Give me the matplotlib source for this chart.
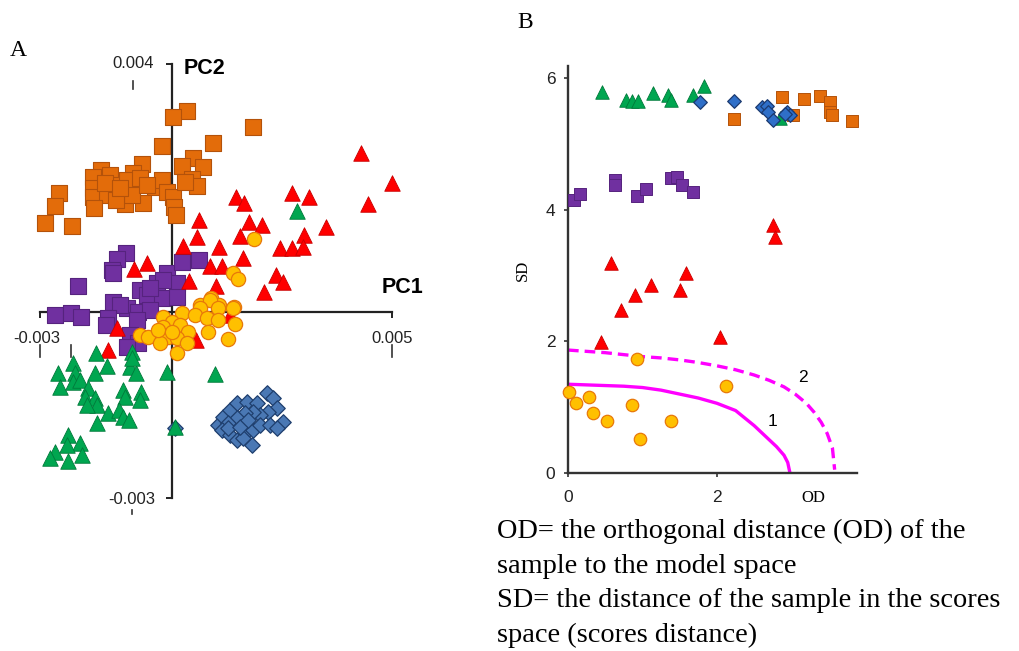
import numpy as np
import matplotlib
matplotlib.use("Agg")
import matplotlib.pyplot as plt
from matplotlib.lines import Line2D

# ---- A: PCA scores (PC1, PC2), in units of 1e-3 ----
orange_pc1 = [0.34, 0.02, 1.84, -0.23, 0.93, 0.48, 0.23, 0.70, 0.45, 0.57, -0.68, -0.89, -1.61, -1.80,
              -1.41, -1.25, -1.02, -0.73, -0.39, -0.23, -0.11, -1.80, -1.80, -1.48, -1.07, -0.66, -1.77,
              0.02, 0.05, 0.09, -2.57, -2.66, -2.89, -2.27, -0.91, -1.27, -0.57, -1.52, -1.18, 0.30]
orange_pc2 = [3.24, 3.15, 2.98, 2.68, 2.73, 2.48, 2.35, 2.34, 2.15, 2.03, 2.39, 2.24, 2.29, 2.18,
              2.21, 2.05, 2.13, 2.16, 2.02, 2.13, 1.94, 2.00, 1.85, 1.89, 1.74, 1.76, 1.68,
              1.85, 1.69, 1.56, 1.92, 1.71, 1.44, 1.39, 1.89, 1.81, 2.05, 2.08, 2.00, 2.10]

red_pc1 = [4.30, 5.00, 4.45, 2.73, 3.11, 1.45, 1.64, 0.61, 1.75, 2.05, 3.50, 0.57, 1.55, 3.00, 0.25,
           1.07, 2.45, 2.73, 2.98, 1.61, 0.86, 1.14, 2.36, 2.52, 2.09, 0.39, 1.00, -0.86, -0.57,
           -1.45, -1.25, 0.55, 1.32]
red_pc2 = [2.56, 2.08, 1.74, 1.92, 1.85, 1.85, 1.76, 1.48, 1.45, 1.40, 1.37, 1.21, 1.23, 1.24, 1.06,
           1.05, 1.03, 1.03, 1.05, 0.87, 0.74, 0.74, 0.60, 0.48, 0.32, 0.50, 0.42, 0.69, 0.79,
           -0.61, -0.26, -0.45, -0.05]

green_pc1 = [2.84, -1.73, -2.25, -2.59, -2.20, -2.55, -2.25, -2.09, -1.75, -1.48, -0.95, -0.82, -0.11,
             0.98, -1.91, -1.98, -1.75, -1.70, -1.93, -1.45, -1.11, -1.07, -0.70, -0.73, -1.20, -1.11,
             -0.98, -1.70, 0.07, -2.36, -2.09, -2.39, -2.66, -2.05, -2.36, -2.77, -0.91, -0.91]
green_pc2 = [1.63, -0.66, -0.82, -0.98, -0.98, -1.21, -1.13, -1.10, -0.98, -0.87, -0.89, -0.98, -0.97,
             -1.00, -1.23, -1.37, -1.39, -1.50, -1.50, -1.63, -1.26, -1.37, -1.29, -1.42, -1.58, -1.69,
             -1.74, -1.79, -1.85, -1.98, -2.11, -2.15, -2.26, -2.31, -2.40, -2.35, -0.65, -0.74]

blue_pc1 = [1.05, 1.16, 1.32, 1.48, 1.70, 1.93, 2.16, 2.30, 2.39, 2.18, 2.00, 1.84, 1.66, 1.48, 1.27,
            1.14, 1.32, 1.48, 1.66, 1.84, 2.00, 2.23, 2.52, 2.39, 1.82, 1.61, 1.27, 1.55, 1.73, 0.07]
blue_pc2 = [-1.82, -1.69, -1.58, -1.47, -1.45, -1.47, -1.31, -1.39, -1.55, -1.61, -1.66, -1.61, -1.63,
            -1.71, -1.79, -1.90, -1.98, -2.06, -1.95, -1.90, -1.82, -1.82, -1.77, -1.87, -2.15, -2.03,
            -1.87, -1.85, -1.74, -1.87]

purple_pc1 = [-1.05, -1.25, -1.36, -1.34, -2.14, -2.66, -2.30, -2.07, -0.11, -0.34, 0.11, -0.73, -0.57,
              -0.23, 0.11, -1.34, -1.02, -1.18, -0.77, -0.50, -1.45, -1.50, -0.80, -0.95, -0.77, -1.02,
              0.23, 0.61, -0.20, -0.50]
purple_pc2 = [0.95, 0.85, 0.68, 0.63, 0.42, -0.05, -0.02, -0.08, 0.63, 0.47, 0.47, 0.35, 0.27,
              0.23, 0.24, 0.16, 0.06, 0.11, 0.00, 0.03, -0.10, -0.21, -0.13, -0.37, -0.50, -0.56,
              0.81, 0.84, 0.52, 0.39]

yellow_pc1 = [1.86, 1.39, 1.50, 0.64, 0.89, 1.07, 1.41, 0.86, 0.64, 1.05, 1.39, 0.23, 0.52, 0.80, 1.05,
              1.43, -0.20, 0.00, -0.20, 0.18, 0.36, 0.82, 1.27, -0.73, -0.55, -0.09, 0.11, 0.34, -0.27,
              0.11, -0.32, 0.00]
yellow_pc2 = [1.18, 0.63, 0.53, 0.11, 0.23, 0.11, 0.08, 0.19, 0.06, 0.06, 0.06, -0.02, -0.05, -0.10,
              -0.13, -0.19, -0.08, -0.16, -0.24, -0.21, -0.32, -0.32, -0.44, -0.37, -0.40, -0.40, -0.42,
              -0.50, -0.50, -0.66, -0.29, -0.32]

# ---- B: orthogonal distance (OD) vs score distance (SD) ----
green_od = [0.46, 0.78, 0.86, 0.94, 1.14, 1.34, 1.38, 1.68, 1.83, 2.85]
green_sd = [5.80, 5.67, 5.66, 5.66, 5.78, 5.75, 5.67, 5.75, 5.89, 5.40]
blue_od = [1.77, 2.23, 2.60, 2.67, 2.69, 2.75, 2.94, 2.98, 2.91]
blue_sd = [5.64, 5.66, 5.57, 5.58, 5.49, 5.37, 5.49, 5.44, 5.46]
orange_od = [2.23, 2.87, 3.02, 3.17, 3.38, 3.52, 3.52, 3.54, 3.81]
orange_sd = [5.38, 5.72, 5.44, 5.69, 5.74, 5.64, 5.49, 5.44, 5.35]
purple_od = [0.08, 0.16, 0.63, 0.63, 0.92, 1.05, 1.38, 1.46, 1.53, 1.68]
purple_sd = [4.15, 4.24, 4.46, 4.38, 4.21, 4.32, 4.49, 4.50, 4.38, 4.28]
red_od = [0.44, 0.58, 0.71, 0.90, 1.11, 1.50, 1.59, 2.04, 2.75, 2.78]
red_sd = [1.99, 3.19, 2.48, 2.71, 2.86, 2.78, 3.04, 2.07, 3.77, 3.59]
yellow_od = [0.01, 0.11, 0.28, 0.34, 0.53, 0.86, 0.92, 0.96, 1.38, 2.12]
yellow_sd = [1.23, 1.07, 1.15, 0.91, 0.79, 1.04, 1.73, 0.52, 0.79, 1.32]

# acceptance limit (1) and outlier limit (2)
lim1_od = [0.0, 0.25, 0.5, 0.75, 1.0, 1.25, 1.5, 1.75, 2.0, 2.25, 2.5, 2.65, 2.8, 2.9, 2.95, 2.98]
lim1_sd = [1.35, 1.34, 1.33, 1.32, 1.30, 1.26, 1.20, 1.14, 1.06, 0.95, 0.72, 0.56, 0.40, 0.27, 0.16, 0.0]
lim2_od = [0.0, 0.25, 0.5, 0.75, 1.0, 1.25, 1.5, 1.75, 2.0, 2.25, 2.5, 2.7, 2.9, 3.05, 3.2, 3.3,
           3.4, 3.48, 3.55, 3.58]
lim2_sd = [1.87, 1.85, 1.83, 1.80, 1.77, 1.75, 1.72, 1.68, 1.63, 1.57, 1.49, 1.41, 1.31, 1.20, 1.06,
           0.93, 0.77, 0.60, 0.38, 0.05]

C_ORANGE, E_ORANGE = '#E36C0A', '#B4520A'
C_RED, E_RED = '#FF0000', '#C80000'
C_GREEN, E_GREEN = '#00A650', '#00793A'
C_BLUE, E_BLUE = '#4A78B4', '#1F3F6E'
C_PURPLE, E_PURPLE = '#7030A0', '#56237E'
C_YELLOW, E_YELLOW = '#FFC000', '#E8780A'
MAGENTA = '#FF00FF'

fig = plt.figure(figsize=(10.19, 6.51), dpi=100)
W, H = 1019, 651

# ---------------- panel A ----------------
axA = fig.add_axes([40 / W, 1 - 498 / H, 352 / W, 434 / H])
k = 1e-3
sc = lambda a: np.asarray(a) * k
kw = dict(clip_on=False)

axA.scatter(sc(orange_pc1), sc(orange_pc2), marker='s', s=135, c=C_ORANGE, edgecolors=E_ORANGE, linewidths=0.8, zorder=3, **kw)
axA.scatter(sc(blue_pc1), sc(blue_pc2), marker='D', s=62, c=C_BLUE, edgecolors=E_BLUE, linewidths=0.9, zorder=3, **kw)
axA.scatter(sc(purple_pc1), sc(purple_pc2), marker='s', s=120, c=C_PURPLE, edgecolors=E_PURPLE, linewidths=0.8, zorder=3, **kw)
axA.scatter(sc(red_pc1), sc(red_pc2), marker='^', s=125, c=C_RED, edgecolors=E_RED, linewidths=0.6, zorder=4, **kw)
axA.scatter(sc(green_pc1), sc(green_pc2), marker='^', s=125, c=C_GREEN, edgecolors=E_GREEN, linewidths=0.6, zorder=4, **kw)
axA.scatter(sc(yellow_pc1), sc(yellow_pc2), marker='o', s=105, c=C_YELLOW, edgecolors=E_YELLOW, linewidths=0.9, zorder=5, **kw)

axA.set_xlim(-0.003, 0.005)
axA.set_ylim(-0.003, 0.004)
for side in ['top', 'right']:
    axA.spines[side].set_visible(False)
axA.spines['left'].set_position(('data', 0))
axA.spines['bottom'].set_position(('data', 0))
for side in ['left', 'bottom']:
    axA.spines[side].set_linewidth(1.6)
    axA.spines[side].set_color('#222222')
    axA.spines[side].set_zorder(2)
axA.set_xticks([-0.003, 0.005])
axA.set_yticks([-0.003, 0.004])
axA.set_xticklabels([])
axA.set_yticklabels([])
axA.tick_params(length=4, width=1.4, color='#222222')

lab = dict(fontsize=12, family='Liberation Sans', color='#222222', ha='center', va='center')
axA.annotate('-0.003', (-0.003, 0), xytext=(-2, -19), textcoords='offset points', **lab)
axA.annotate('0.005', (0.005, 0), xytext=(0, -19), textcoords='offset points', **lab)
axA.annotate('0.004', (0, 0.004), xytext=(-28, 0), textcoords='offset points', **lab)
axA.annotate('-0.003', (0, -0.003), xytext=(-29, -1), textcoords='offset points', **lab)
axA.text(0.00073, 0.00392, 'PC2', fontsize=15.5, fontweight='bold', family='Liberation Sans',
         ha='center', va='center')
axA.text(0.00523, 0.00040, 'PC1', fontsize=15.5, fontweight='bold', family='Liberation Sans',
         ha='center', va='center')

# small marks under the tick labels
for x, y0, y1 in [(40, 345, 357), (71, 345, 357), (392, 345, 357), (133, 81, 89), (132, 510, 514)]:
    fig.add_artist(Line2D([x / W, x / W], [1 - y0 / H, 1 - y1 / H], color='#333333', lw=1.2))

# ---------------- panel B ----------------
axB = fig.add_axes([568 / W, 1 - 473 / H, 289 / W, 407 / H])
axB.plot(lim1_od, lim1_sd, color=MAGENTA, lw=2.4, zorder=2, solid_capstyle='butt')
axB.plot(lim2_od, lim2_sd, color=MAGENTA, lw=2.4, ls=(0, (3.2, 1.8)), zorder=2)
axB.text(2.75, 0.78, '1', fontsize=12.5, family='Liberation Sans', ha='center', va='center')
axB.text(3.15, 1.46, '2', fontsize=12.5, family='Liberation Sans', ha='center', va='center')

kb = dict(clip_on=False)
axB.scatter(green_od, green_sd, marker='^', s=95, c=C_GREEN, edgecolors=E_GREEN, linewidths=0.6, zorder=3, **kb)
axB.scatter(blue_od, blue_sd, marker='D', s=48, c='#2F6FC8', edgecolors='#1C3A70', linewidths=0.9, zorder=4, **kb)
axB.scatter(orange_od, orange_sd, marker='s', s=85, c=C_ORANGE, edgecolors=E_ORANGE, linewidths=0.7, zorder=3, **kb)
axB.scatter(purple_od, purple_sd, marker='s', s=85, c=C_PURPLE, edgecolors=E_PURPLE, linewidths=0.7, zorder=3, **kb)
axB.scatter(red_od, red_sd, marker='^', s=95, c=C_RED, edgecolors=E_RED, linewidths=0.6, zorder=3, **kb)
axB.scatter(yellow_od, yellow_sd, marker='o', s=80, c=C_YELLOW, edgecolors=E_YELLOW, linewidths=0.9, zorder=3, **kb)

axB.set_xlim(0, 3.88)
axB.set_ylim(0, 6.19)
for side in ['top', 'right']:
    axB.spines[side].set_visible(False)
for side in ['left', 'bottom']:
    axB.spines[side].set_linewidth(1.7)
    axB.spines[side].set_color('#333333')
axB.set_xticks([0, 2])
axB.set_yticks([0, 2, 4, 6])
axB.tick_params(length=3, width=1.2, color='#333333', labelsize=12.5)
axB.tick_params(axis='x', pad=9)
axB.tick_params(axis='y', pad=6)
for t in axB.get_xticklabels() + axB.get_yticklabels():
    t.set_family('Liberation Sans')
    t.set_color('#222222')
axB.annotate('OD', (3.3, 0), xytext=(0, -18), textcoords='offset points', ha='center', va='center',
             fontsize=12, family='Liberation Serif')
fig.text(523 / W, 1 - 270 / H, 'SD', rotation=90, fontsize=12, family='Liberation Serif', ha='center', va='center')

# panel letters and note
fig.text(18 / W, 1 - 50 / H, 'A', fontsize=17, family='Liberation Serif', ha='center', va='center')
fig.text(525 / W, 1 - 22 / H, 'B', fontsize=17, family='Liberation Serif', ha='center', va='center')
note = ("OD= the orthogonal distance (OD) of the\n"
        "sample to the model space\n"
        "SD= the distance of the sample in the scores\n"
        "space (scores distance)")
fig.text(497 / W, 1 - 519 / H, note, fontsize=20.4, family='Liberation Serif', ha='left', va='top',
         linespacing=1.5)

fig.savefig('out.png', dpi=100)
